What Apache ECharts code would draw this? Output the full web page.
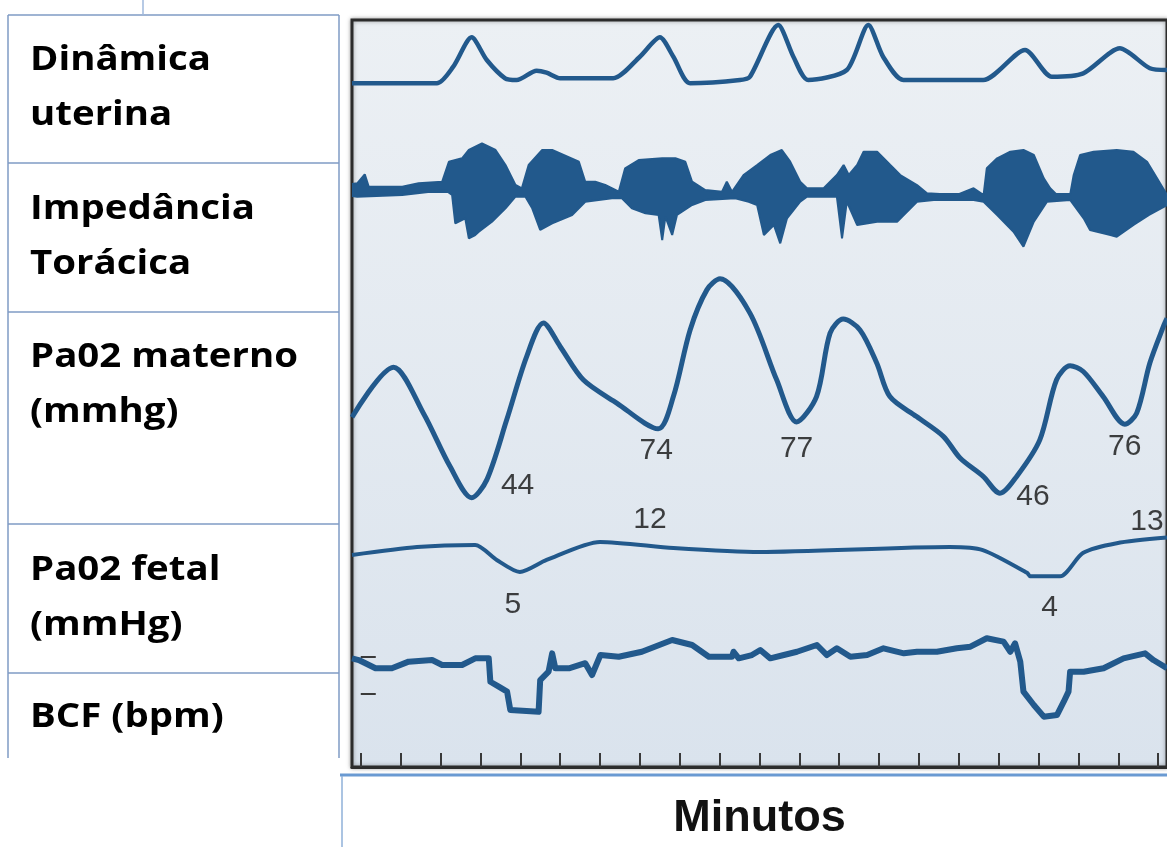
<!DOCTYPE html>
<html>
<head>
<meta charset="utf-8">
<script src="https://cdn.jsdelivr.net/npm/echarts@6/dist/echarts.min.js"></script>
<style>
  html, body { margin: 0; padding: 0; background: #fff; }
  #EchartDiv { width: 1167px; height: 847px; }
</style>
</head>
<body>
<div id="EchartDiv"></div>
<script>
// eixo dos minutos (marcas 0..20)
var minuteTicks = [0,1,2,3,4,5,6,7,8,9,10,11,12,13,14,15,16,17,18,19,20];
var bcfTicks = [120, 150];

// Dinâmica uterina (mmHg)
var uterina = [[-0.22,11.7],[1.91,11.7],[2.32,28.3],[2.78,57.7],[3.16,35],[3.62,16.7],[3.91,15],[4.41,24.3],
	[4.66,22.3],[5.0,16.7],[6.33,16.7],[7.0,38.3],[7.5,57.7],[7.84,38.3],[8.26,11.7],[9.51,15],[9.76,18.3],
	[10.47,70],[10.85,38.3],[11.22,15],[12.19,25],[12.73,70],[13.1,38.3],[13.61,15],
	[15.61,15],[16.66,45],[17.33,18.3],[18.12,21.7],[19.04,46.7],[19.79,26.7],[20.22,25]];

// Impedância torácica: envelope superior / inferior
var impedSup = [[-0.22,6],[-0.09,6.7],[0.10,15.7],[0.20,3.3],[1.04,3.3],[1.45,6.7],[2.04,8.3],[2.21,28.3],[2.54,31.7],
	[2.71,40],[3.04,46.7],[3.38,40],[3.63,25],[3.88,5],[4.04,1.7],[4.21,25],[4.55,40],[4.80,40],[5.47,28.3],
	[5.63,8.3],[5.88,8.3],[6.13,5],[6.47,-1.7],[6.63,21.7],[6.97,30],[7.56,31.7],[7.89,31.7],[8.14,28.3],
	[8.31,8.3],[8.64,0],[9.06,-1.7],[9.18,8.3],[9.31,-1.7],[9.60,15],[9.94,25],[10.27,35],[10.56,40],[10.77,28.3],
	[11.02,8.3],[11.19,1.7],[11.61,1.7],[11.94,15],[12.11,25],[12.24,15],[12.45,25],[12.61,38.3],[12.95,38.3],
	[13.28,25],[13.53,15],[13.95,5],[14.20,-3.3],[14.95,-5],[15.37,1.7],[15.62,-5],[15.70,21.7],[15.96,31.7],
	[16.29,38.3],[16.62,40],[16.88,35],[17.13,11.7],[17.29,1.7],[17.46,-5],[17.79,-5],[17.88,15],[18.04,35],
	[18.38,38.3],[18.96,40],[19.38,38.3],[19.72,28.3],[19.97,11.7],[20.22,-5]];
var impedInf = [[-0.22,-6],[-0.09,-6.7],[1.04,-5],[2.12,0],[2.29,-5],[2.37,-33.3],[2.62,-28.3],[2.71,-48.3],[2.87,-45],
	[2.96,-41.7],[3.29,-31.7],[3.63,-18.3],[3.88,-6.7],[4.13,-6.7],[4.30,-18.3],[4.50,-40],[4.80,-33.3],[5.30,-25],
	[5.63,-11.7],[6.30,-8.3],[6.55,-8.3],[6.80,-18.3],[7.14,-23.3],[7.47,-25],[7.56,-50],[7.64,-26.7],[7.81,-45],
	[7.93,-25],[8.31,-15],[8.64,-10],[9.39,-8.3],[9.73,-11.7],[9.94,-15],[10.11,-45],[10.36,-35],[10.52,-53.3],
	[10.69,-28.3],[11.02,-11.7],[11.19,-6.7],[11.94,-6.7],[12.07,-48.3],[12.19,-11.7],[12.45,-35],[12.95,-31.7],
	[13.45,-31.7],[13.95,-11.7],[14.37,-10],[15.37,-10],[15.62,-11.7],[15.96,-25],[16.37,-41.7],[16.62,-56.7],
	[16.88,-31.7],[17.21,-11.7],[17.79,-10],[18.13,-28.3],[18.29,-40],[18.80,-45],[18.96,-46.7],[19.38,-35],
	[19.77,-25],[20.22,-15]];

// Pa02 materno (mmHg)
var pao2Materno = [[-0.22,79],[0.82,100.8],[1.57,80.8],[2.24,57.6],[2.78,44],[3.16,51.8],[3.66,77.9],[4.16,105.4],
	[4.58,120],[5.0,109.8],[5.58,95.3],[6.42,85.2],[7.46,74],[7.84,88],[8.26,117],[8.68,134.4],[9.01,139.2],
	[9.76,124.3],[10.43,95.3],[10.93,77],[11.43,88],[11.77,115.6],[12.10,121.7],[12.52,117],[12.94,102.6],
	[13.27,88],[13.94,79.3],[14.61,70.7],[15.03,61.3],[15.61,53.3],[16.03,46],[16.45,53.3],[17.03,69.2],
	[17.45,95.3],[17.79,101.4],[18.12,98.9],[18.62,88],[19.16,76],[19.46,80.8],[19.79,102.6],[20.13,118.5],[20.22,122]];
var maternoMarcas = [[2.78,44],[7.46,74],[10.93,77],[16.03,46],[19.16,76]];

// Pa02 fetal (mmHg)
var pao2Fetal = [[-0.22,8.95],[1.41,10.8],[2.87,11.3],[3.41,7.8],[3.99,5],[4.66,7.8],[6.0,12],[7.84,10.6],
	[10.0,9.65],[14.77,10.8],[15.6,10.1],[16.71,4.8],[16.79,4],[17.54,4],[18.11,9.4],[18.96,11.7],[20.22,13]];
var fetalMarcas = [[3.99,5],[6.0,12],[17.2,4],[20.22,13]];

// BCF (bpm)
var bcf = [[-0.22,148.7],[-0.05,147.3],[0.37,140.6],[0.78,140.6],[1.20,146],[1.79,147.3],[2.04,143.3],[2.54,143.3],
	[2.87,148.7],[3.21,148.7],[3.25,129.6],[3.46,125.6],[3.67,121.5],[3.75,106.5],[4.46,105.1],[4.50,131],
	[4.71,137.8],[4.80,152.8],[4.88,140.6],[5.22,140.6],[5.63,144.7],[5.80,135.1],[6.01,151.4],[6.47,150],
	[7.05,154.1],[7.81,163.7],[8.31,159.6],[8.73,150],[9.31,150],[9.35,154.1],[9.48,148.7],[9.81,151.4],
	[10.02,155.5],[10.27,148.7],[10.61,151.4],[10.94,154.1],[11.44,159.6],[11.69,151.4],[11.94,156.9],[12.28,150],
	[12.70,151.4],[13.11,156.9],[13.62,152.8],[13.95,154.1],[14.45,154.1],[14.95,156.9],[15.29,158.2],[15.70,165.1],
	[16.12,162.3],[16.29,154.1],[16.41,161],[16.54,146],[16.62,121.5],[16.88,110.6],[17.13,101.1],[17.46,102.4],
	[17.63,113.3],[17.75,121.5],[17.79,137.8],[18.13,137.8],[18.63,140.6],[19.13,148.7],[19.67,152.8],[19.88,147.3],
	[20.22,140.6]];

var rotulos = ['Dinâmica','uterina','Impedância','Torácica','Pa02 materno','(mmhg)','Pa02 fetal','(mmHg)','BCF (bpm)'];

function InitChart(obj){
	obj.myChart = echarts.init(document.getElementById('EchartDiv'));
	var corLinha = '#22598c';
	var X_MIN = -0.22, X_MAX = 20.22;

	// grids: 0 moldura, 1 uterina, 2 impedancia, 3 materno, 4 fetal, 5 BCF
	var grids = [
		{left:352, right:-10, top:20, bottom:80, show:true, borderColor:'#2c2c2c', borderWidth:3,
			shadowBlur:4, shadowColor:'rgba(0,0,0,0.35)',
			backgroundColor: new echarts.graphic.LinearGradient(0,0,0,1,[
				{offset:0, color:'#ecf0f4'},{offset:1, color:'#dae3ed'}])},
		{left:352, right:0, top:15, height:80},
		{left:352, right:0, top:130, height:120},
		{left:352, right:0, top:254, height:276},
		{left:352, right:0, top:529, height:86},
		{left:352, right:0, top:620, height:147}
	];
	var yRanges = [[0,1],[0,80],[-60,60],[30,150],[-5,15],[60,180]];

	var xAxes = [], yAxes = [];
	for (var i=0;i<grids.length;i++){
		xAxes.push({type:'value', gridIndex:i, min:X_MIN, max:X_MAX, show:false});
		yAxes.push({type:'value', gridIndex:i, min:yRanges[i][0], max:yRanges[i][1], show:false});
	}
	// eixo inferior com marcas dos minutos
	xAxes[5] = {
		type:'value', gridIndex:5, min:X_MIN, max:X_MAX,
		name:'Minutos', nameLocation:'middle', nameGap:29,
		nameTextStyle:{fontSize:45, fontWeight:'bold', fontFamily:'Liberation Sans', color:'#111'},
		axisLine:{show:true, lineStyle:{color:'#2c2c2c', width:3}},
		axisTick:{show:true, customValues:minuteTicks, inside:true, length:14, lineStyle:{color:'#3a3a3a', width:2}},
		axisLabel:{show:false},
		splitLine:{show:false}
	};
	yAxes[5] = {
		type:'value', gridIndex:5, min:60, max:180,
		axisLine:{show:false},
		axisTick:{show:true, customValues:bcfTicks, inside:true, length:15, lineStyle:{color:'#3a3a3a', width:2}},
		axisLabel:{show:false},
		splitLine:{show:false}
	};

	var numFont = {fontFamily:'Liberation Sans', fontSize:30, color:'#111', textBorderWidth:0};
	var maternoOffset = [[46,-12],[-2,22],[0,27],[33,4],[0,23]];
	var fetalOffset = [[-7,33],[50,-22],[3,31],[-20,-16]];

	function marcas(lista, offs){
		return lista.map(function(p,i){
			return {value:p, label:{offset:offs[i]}};
		});
	}

	var series = [
		{name:'Dinâmica uterina', type:'line', xAxisIndex:1, yAxisIndex:1, data:uterina, smooth:0.25,
			showSymbol:false, lineStyle:{color:corLinha, width:4.5, join:'round'}},
		{name:'Impedância sup', type:'line', xAxisIndex:2, yAxisIndex:2, data:impedSup,
			showSymbol:false, lineStyle:{color:corLinha, width:2}, areaStyle:{color:corLinha, opacity:1, origin:-3}},
		{name:'Impedância inf', type:'line', xAxisIndex:2, yAxisIndex:2, data:impedInf,
			showSymbol:false, lineStyle:{color:corLinha, width:2}, areaStyle:{color:corLinha, opacity:1, origin:-3}},
		{name:'Pa02 materno', type:'line', xAxisIndex:3, yAxisIndex:3, data:pao2Materno, smooth:0.3,
			showSymbol:false, lineStyle:{color:corLinha, width:5, join:'round'}},
		{name:'Pa02 fetal', type:'line', xAxisIndex:4, yAxisIndex:4, data:pao2Fetal, smooth:0.25,
			showSymbol:false, lineStyle:{color:corLinha, width:4, join:'round'}},
		{name:'BCF', type:'line', xAxisIndex:5, yAxisIndex:5, data:bcf,
			showSymbol:false, lineStyle:{color:corLinha, width:6, join:'round'}},
		{name:'rotulos materno', type:'scatter', xAxisIndex:3, yAxisIndex:3, symbolSize:1,
			itemStyle:{color:'rgba(0,0,0,0)'}, data:marcas(maternoMarcas, maternoOffset),
			label:Object.assign({show:true, position:'inside', formatter:function(p){return p.value[1];}}, numFont)},
		{name:'rotulos fetal', type:'scatter', xAxisIndex:4, yAxisIndex:4, symbolSize:1,
			itemStyle:{color:'rgba(0,0,0,0)'}, data:marcas(fetalMarcas, fetalOffset),
			label:Object.assign({show:true, position:'inside', formatter:function(p){return p.value[1];}}, numFont)}
	];

	// tabela de rotulos a esquerda
	var corTab = '#7f9bc5';
	var graficos = [];
	[15,163,312,524,673].forEach(function(y){
		graficos.push({type:'line', shape:{x1:8,y1:y,x2:339,y2:y}, style:{stroke:corTab, lineWidth:1.5}});
	});
	graficos.push({type:'line', shape:{x1:8,y1:15,x2:8,y2:758}, style:{stroke:corTab, lineWidth:1.5}});
	graficos.push({type:'line', shape:{x1:339,y1:15,x2:339,y2:758}, style:{stroke:corTab, lineWidth:1.5}});
	graficos.push({type:'line', shape:{x1:143,y1:0,x2:143,y2:15}, style:{stroke:'#9fb8dc', lineWidth:1.5}});
	graficos.push({type:'line', shape:{x1:340,y1:775,x2:1167,y2:775}, style:{stroke:'#6a9ad2', lineWidth:3}});
	graficos.push({type:'line', shape:{x1:342,y1:776,x2:342,y2:847}, style:{stroke:'#8fb0d9', lineWidth:1.5}});
	var baseY = [73,128,222,277,370,425,583,638,730];
	rotulos.forEach(function(t,i){
		graficos.push({type:'text', x:30, y:baseY[i]-13, scaleX:1.13, style:{
			text:t, fontFamily:'Open Sans', fontWeight:'bold', fontSize:34, fill:'#000', verticalAlign:'middle'}});
	});

	var option = {
		animation:false,
		grid:grids,
		xAxis:xAxes,
		yAxis:yAxes,
		series:series,
		graphic:graficos
	};
	obj.myChart.setOption(option);
}

var obj = {};
InitChart(obj);
</script>
</body>
</html>
